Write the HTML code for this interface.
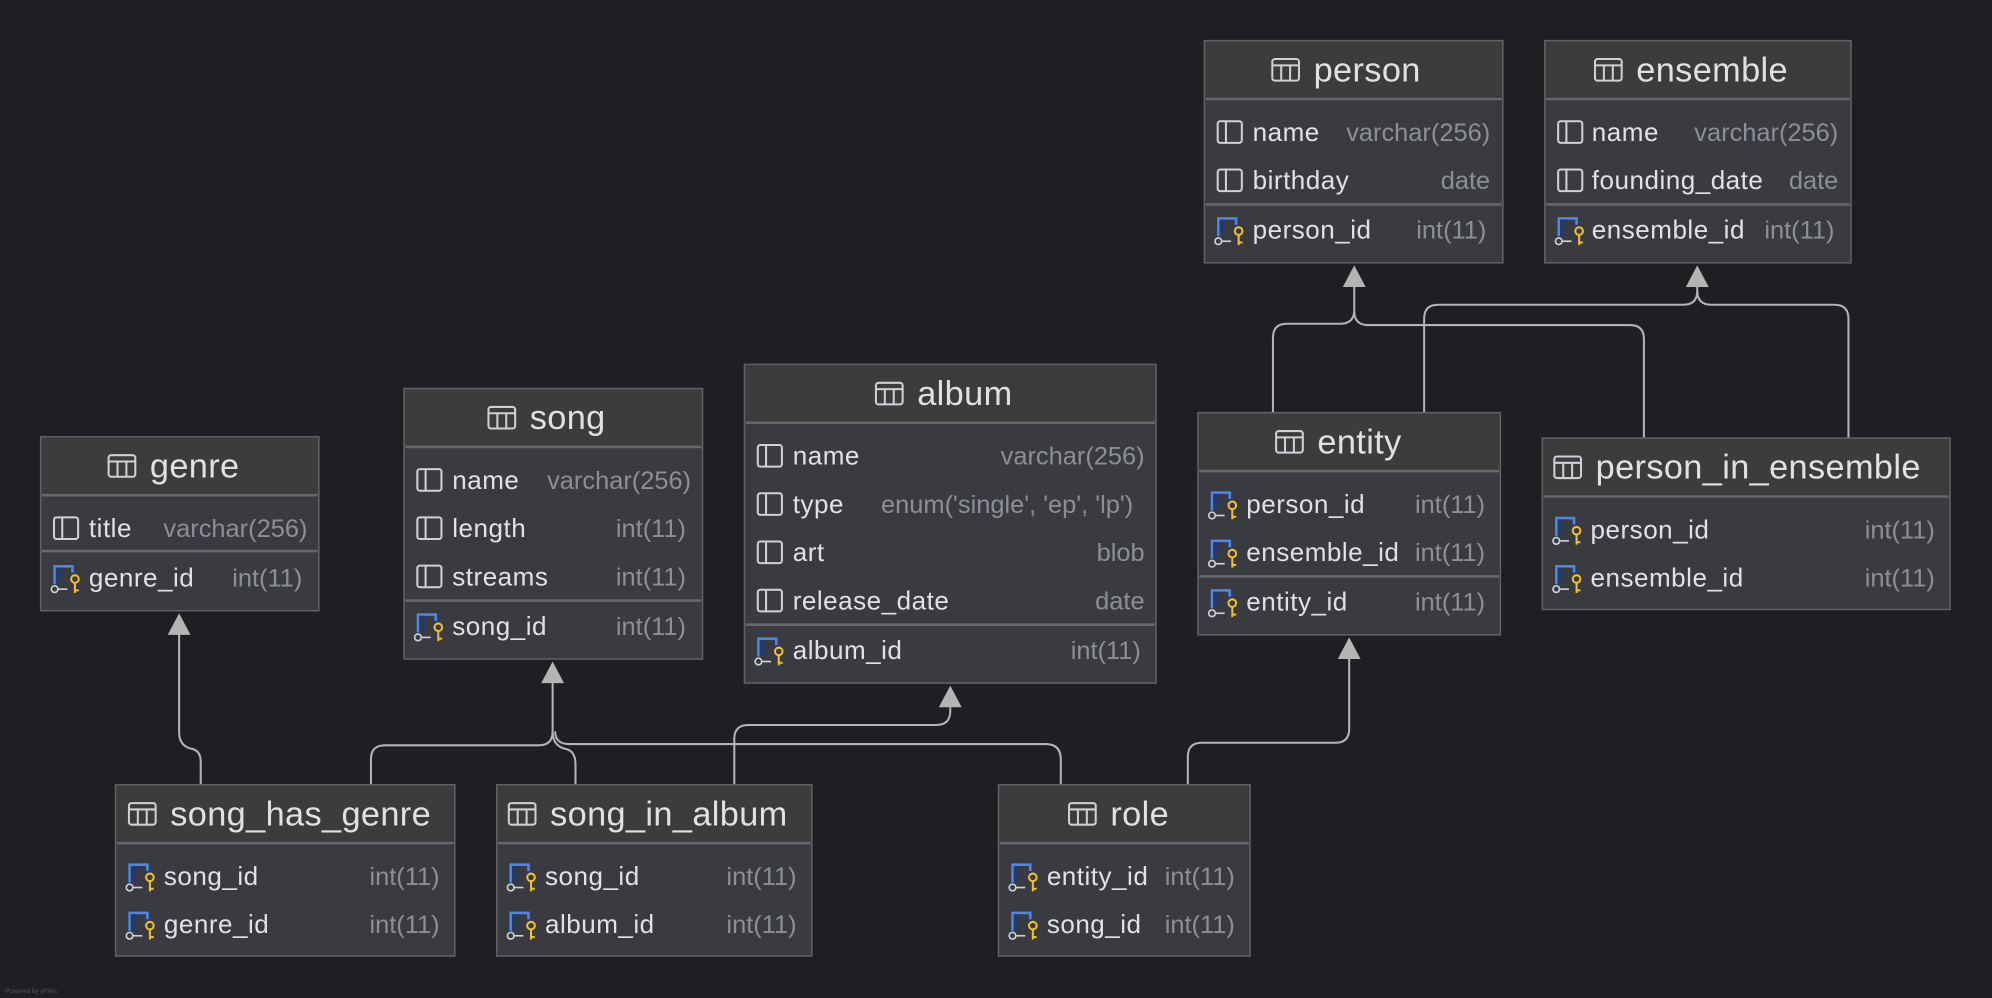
<!DOCTYPE html>
<html><head><meta charset="utf-8"><style>
html,body{margin:0;padding:0;background:#1e1f22;}
svg{display:block;}
text{font-family:"Liberation Sans",sans-serif;}
.t{font-size:27px;fill:#dfe1e5;letter-spacing:0.3px;}
.n{font-size:20.5px;fill:#dfe1e5;letter-spacing:0.4px;}
.y{font-size:20px;fill:#8c8f94;text-anchor:end;}
.box{fill:#393b40;stroke:#5f6166;stroke-width:1.2;}
.hd{fill:#3c3c3c;}
.dv{stroke:#66686c;stroke-width:2;}
.c{fill:none;stroke:#b4b4b4;stroke-width:1.6;}
.a{fill:#b4b4b4;}
</style></head><body>
<svg width="1992" height="998" viewBox="0 0 1568 786" preserveAspectRatio="none" xmlns="http://www.w3.org/2000/svg">
<defs>
<g id="ti"><rect x="0.5" y="0.5" width="21" height="17" rx="2" fill="none" stroke="#cfd1d6" stroke-width="1.6"/><line x1="0.5" y1="5.5" x2="21.5" y2="5.5" stroke="#cfd1d6" stroke-width="1.6"/><line x1="7.5" y1="5.5" x2="7.5" y2="17.5" stroke="#cfd1d6" stroke-width="1.6"/><line x1="14.5" y1="5.5" x2="14.5" y2="17.5" stroke="#cfd1d6" stroke-width="1.6"/></g>
<g id="ci"><rect x="0.5" y="0.5" width="19" height="17" rx="2" fill="none" stroke="#cfd1d6" stroke-width="1.6"/><line x1="7" y1="0.5" x2="7" y2="17.5" stroke="#cfd1d6" stroke-width="1.6"/></g>
<g id="ki"><path d="M3 15 V1 H17 V6" fill="none" stroke="#4a88f0" stroke-width="2"/><rect x="4" y="2" width="5" height="12" fill="#2b3a5a"/><circle cx="3" cy="19" r="2.6" fill="none" stroke="#cfd1d6" stroke-width="1.3"/><line x1="6" y1="19" x2="13" y2="19" stroke="#cfd1d6" stroke-width="1.3"/><circle cx="19" cy="11" r="3" fill="none" stroke="#f0c030" stroke-width="1.6"/><line x1="19" y1="14" x2="19" y2="22" stroke="#f0c030" stroke-width="1.6"/><line x1="19" y1="20" x2="22" y2="20" stroke="#f0c030" stroke-width="1.6"/></g>
</defs>
<rect width="1568" height="786" fill="#1e1f22"/>

<path class="c" d="M141 500 V577 Q141 588 152 590 Q158 592 158 600 V618"/>
<polygon class="a" points="141,483 132,500 150,500"/>
<path class="c" d="M435 538 V576 Q435 587 424 587 H303 Q292 587 292 598 V618"/>
<path class="c" d="M435 576 Q435 588 446 590 Q453 592 453 602 V618"/>
<path class="c" d="M437 576 Q437 586 448 586 H823 Q835 586 835 598 V618"/>
<polygon class="a" points="435,521 426,538 444,538"/>
<path class="c" d="M578 618 V582 Q578 571 589 571 H737 Q748 571 748 560 V557"/>
<polygon class="a" points="748,540 739,557 757,557"/>
<path class="c" d="M935 618 V596 Q935 585 946 585 H1051 Q1062 585 1062 574 V519"/>
<polygon class="a" points="1062,502 1053,519 1071,519"/>
<path class="c" d="M1002 325 V266 Q1002 255 1013 255 H1055 Q1066 255 1066 244 V226"/>
<path class="c" d="M1294 345 V267 Q1294 256 1283 256 H1077 Q1066 256 1066 245"/>
<polygon class="a" points="1066,209 1057,226 1075,226"/>
<path class="c" d="M1121 325 V251 Q1121 240 1132 240 H1325 Q1336 240 1336 229 V226"/>
<path class="c" d="M1455 345 V251 Q1455 240 1444 240 H1347 Q1336 240 1336 229"/>
<polygon class="a" points="1336,209 1327,226 1345,226"/>

<rect class="box" x="948" y="32" width="235" height="175"/><rect class="hd" x="949" y="33" width="233" height="44"/>
<line class="dv" x1="949" y1="78" x2="1182" y2="78"/><line class="dv" x1="949" y1="161" x2="1182" y2="161"/>
<use href="#ti" x="1001" y="46"/><text class="t" x="1034" y="64">person</text>
<use href="#ci" x="958" y="95"/><text class="n" x="986" y="111">name</text><text class="y" x="1173" y="111">varchar(256)</text>
<use href="#ci" x="958" y="133"/><text class="n" x="986" y="149">birthday</text><text class="y" x="1173" y="149">date</text>
<use href="#ki" x="956" y="171"/><text class="n" x="986" y="188">person_id</text><text class="y" x="1170" y="188">int(11)</text>

<rect class="box" x="1216" y="32" width="241" height="175"/><rect class="hd" x="1217" y="33" width="239" height="44"/>
<line class="dv" x1="1217" y1="78" x2="1456" y2="78"/><line class="dv" x1="1217" y1="161" x2="1456" y2="161"/>
<use href="#ti" x="1255" y="46"/><text class="t" x="1288" y="64">ensemble</text>
<use href="#ci" x="1226" y="95"/><text class="n" x="1253" y="111">name</text><text class="y" x="1447" y="111">varchar(256)</text>
<use href="#ci" x="1226" y="133"/><text class="n" x="1253" y="149">founding_date</text><text class="y" x="1447" y="149">date</text>
<use href="#ki" x="1224" y="171"/><text class="n" x="1253" y="188">ensemble_id</text><text class="y" x="1444" y="188">int(11)</text>

<rect class="box" x="32" y="344" width="219" height="137"/><rect class="hd" x="33" y="345" width="217" height="44"/>
<line class="dv" x1="33" y1="390" x2="250" y2="390"/><line class="dv" x1="33" y1="434" x2="250" y2="434"/>
<use href="#ti" x="85" y="358"/><text class="t" x="118" y="376">genre</text>
<use href="#ci" x="42" y="407"/><text class="n" x="70" y="423">title</text><text class="y" x="242" y="423">varchar(256)</text>
<use href="#ki" x="40" y="445"/><text class="n" x="70" y="462">genre_id</text><text class="y" x="238" y="462">int(11)</text>

<rect class="box" x="318" y="306" width="235" height="213"/><rect class="hd" x="319" y="307" width="233" height="44"/>
<line class="dv" x1="319" y1="352" x2="552" y2="352"/><line class="dv" x1="319" y1="473" x2="552" y2="473"/>
<use href="#ti" x="384" y="320"/><text class="t" x="417" y="338">song</text>
<use href="#ci" x="328" y="369"/><text class="n" x="356" y="385">name</text><text class="y" x="544" y="385">varchar(256)</text>
<use href="#ci" x="328" y="407"/><text class="n" x="356" y="423">length</text><text class="y" x="540" y="423">int(11)</text>
<use href="#ci" x="328" y="445"/><text class="n" x="356" y="461">streams</text><text class="y" x="540" y="461">int(11)</text>
<use href="#ki" x="326" y="483"/><text class="n" x="356" y="500">song_id</text><text class="y" x="540" y="500">int(11)</text>

<rect class="box" x="586" y="287" width="324" height="251"/><rect class="hd" x="587" y="288" width="322" height="44"/>
<line class="dv" x1="587" y1="333" x2="909" y2="333"/><line class="dv" x1="587" y1="492" x2="909" y2="492"/>
<use href="#ti" x="689" y="301"/><text class="t" x="722" y="319">album</text>
<use href="#ci" x="596" y="350"/><text class="n" x="624" y="366">name</text><text class="y" x="901" y="366">varchar(256)</text>
<use href="#ci" x="596" y="388"/><text class="n" x="624" y="404">type</text><text class="y" x="892" y="404">enum('single', 'ep', 'lp')</text>
<use href="#ci" x="596" y="426"/><text class="n" x="624" y="442">art</text><text class="y" x="901" y="442">blob</text>
<use href="#ci" x="596" y="464"/><text class="n" x="624" y="480">release_date</text><text class="y" x="901" y="480">date</text>
<use href="#ki" x="594" y="502"/><text class="n" x="624" y="519">album_id</text><text class="y" x="898" y="519">int(11)</text>

<rect class="box" x="943" y="325" width="238" height="175"/><rect class="hd" x="944" y="326" width="236" height="44"/>
<line class="dv" x1="944" y1="371" x2="1180" y2="371"/><line class="dv" x1="944" y1="454" x2="1180" y2="454"/>
<use href="#ti" x="1004" y="339"/><text class="t" x="1037" y="357">entity</text>
<use href="#ki" x="951" y="387"/><text class="n" x="981" y="404">person_id</text><text class="y" x="1169" y="404">int(11)</text>
<use href="#ki" x="951" y="425"/><text class="n" x="981" y="442">ensemble_id</text><text class="y" x="1169" y="442">int(11)</text>
<use href="#ki" x="951" y="464"/><text class="n" x="981" y="481">entity_id</text><text class="y" x="1169" y="481">int(11)</text>

<rect class="box" x="1214" y="345" width="321" height="135"/><rect class="hd" x="1215" y="346" width="319" height="44"/>
<line class="dv" x1="1215" y1="391" x2="1534" y2="391"/>
<use href="#ti" x="1223" y="359"/><text class="t" x="1256" y="377">person_in_ensemble</text>
<use href="#ki" x="1222" y="407"/><text class="n" x="1252" y="424">person_id</text><text class="y" x="1523" y="424">int(11)</text>
<use href="#ki" x="1222" y="445"/><text class="n" x="1252" y="462">ensemble_id</text><text class="y" x="1523" y="462">int(11)</text>

<rect class="box" x="91" y="618" width="267" height="135"/><rect class="hd" x="92" y="619" width="265" height="44"/>
<line class="dv" x1="92" y1="664" x2="357" y2="664"/>
<use href="#ti" x="101" y="632"/><text class="t" x="134" y="650">song_has_genre</text>
<use href="#ki" x="99" y="680"/><text class="n" x="129" y="697">song_id</text><text class="y" x="346" y="697">int(11)</text>
<use href="#ki" x="99" y="718"/><text class="n" x="129" y="735">genre_id</text><text class="y" x="346" y="735">int(11)</text>

<rect class="box" x="391" y="618" width="248" height="135"/><rect class="hd" x="392" y="619" width="246" height="44"/>
<line class="dv" x1="392" y1="664" x2="638" y2="664"/>
<use href="#ti" x="400" y="632"/><text class="t" x="433" y="650">song_in_album</text>
<use href="#ki" x="399" y="680"/><text class="n" x="429" y="697">song_id</text><text class="y" x="627" y="697">int(11)</text>
<use href="#ki" x="399" y="718"/><text class="n" x="429" y="735">album_id</text><text class="y" x="627" y="735">int(11)</text>

<rect class="box" x="786" y="618" width="198" height="135"/><rect class="hd" x="787" y="619" width="196" height="44"/>
<line class="dv" x1="787" y1="664" x2="983" y2="664"/>
<use href="#ti" x="841" y="632"/><text class="t" x="874" y="650">role</text>
<use href="#ki" x="794" y="680"/><text class="n" x="824" y="697">entity_id</text><text class="y" x="972" y="697">int(11)</text>
<use href="#ki" x="794" y="718"/><text class="n" x="824" y="735">song_id</text><text class="y" x="972" y="735">int(11)</text>

<text x="4" y="782" style="font-size:5px;fill:#555">Powered by yFiles</text>
</svg>
</body></html>
